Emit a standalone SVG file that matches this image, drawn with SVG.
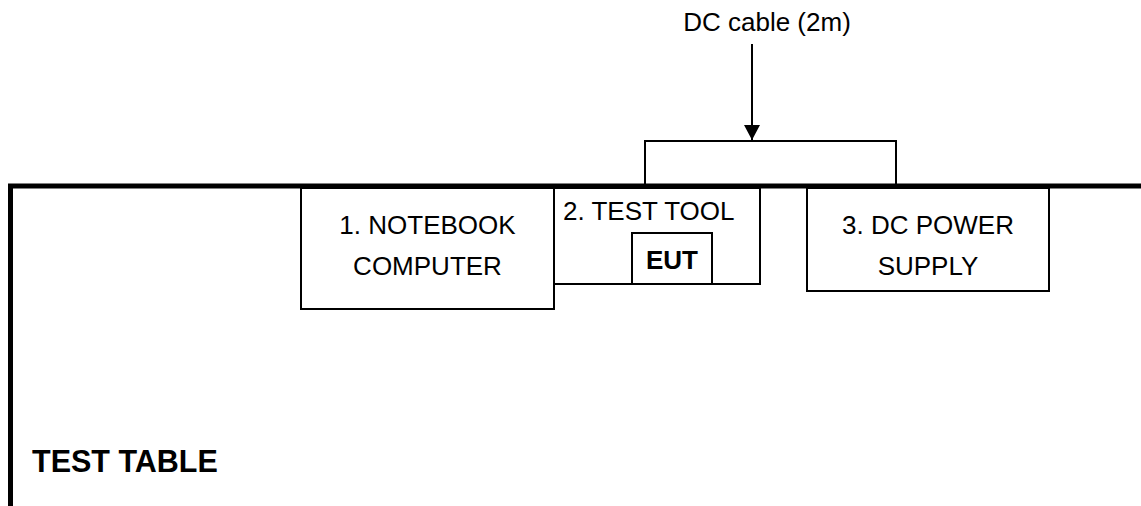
<svg xmlns="http://www.w3.org/2000/svg" width="1141" height="506" viewBox="0 0 1141 506">
<style>
.box{fill:#fff;stroke:#000;stroke-width:2}
.t{font-family:"Liberation Sans",Arial,sans-serif;font-size:26px;fill:#000;text-anchor:middle}
.b{font-weight:bold}
</style>
<defs>
<marker id="ah" markerWidth="16" markerHeight="16" refX="15" refY="8" orient="auto" markerUnits="userSpaceOnUse">
<path d="M0,0 L15,8 L0,16 z" fill="#000"/>
</marker>
</defs>
<rect width="1141" height="506" fill="#fff"/>
<g id="table">
<path d="M1141,186 H10.5 V506" fill="none" stroke="#000" stroke-width="5"/>
<text class="t b" x="32" y="472" style="text-anchor:start;font-size:30.5px">TEST TABLE</text>
</g>
<g id="connectors">
<path d="M645,184 V141 H896 V184" fill="none" stroke="#000" stroke-width="2"/>
<line x1="752" y1="44" x2="752" y2="140" stroke="#000" stroke-width="2" marker-end="url(#ah)"/>
<text class="t" x="767" y="31">DC cable (2m)</text>
</g>
<g id="notebook">
<rect class="box" x="301" y="188" width="253" height="121"/>
<text class="t" x="427.5" y="234">1. NOTEBOOK</text>
<text class="t" x="427.5" y="275">COMPUTER</text>
</g>
<g id="testtool">
<rect class="box" x="554" y="188" width="206" height="96"/>
<text class="t" x="563" y="220" style="text-anchor:start">2. TEST TOOL</text>
</g>
<g id="eut">
<rect class="box" x="632" y="233" width="80" height="51"/>
<text class="t b" x="672" y="269">EUT</text>
</g>
<g id="power">
<rect class="box" x="807" y="188" width="242" height="103"/>
<text class="t" x="928" y="234">3. DC POWER</text>
<text class="t" x="928" y="275">SUPPLY</text>
</g>
</svg>
